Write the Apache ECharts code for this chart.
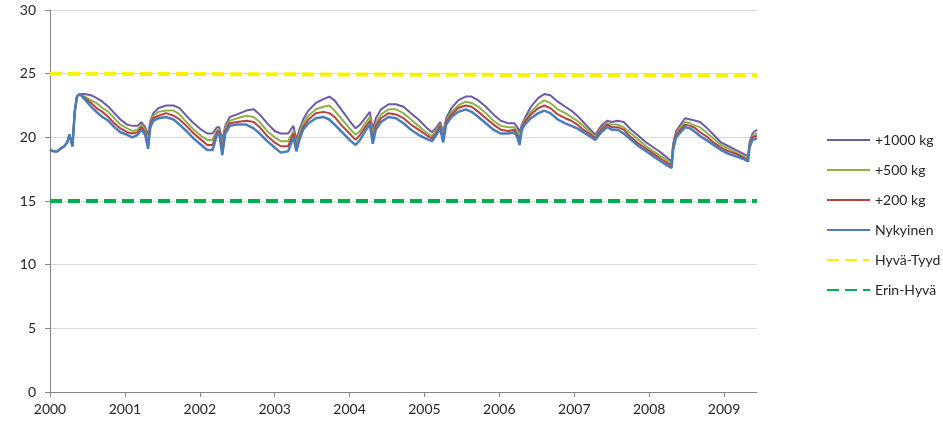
<!DOCTYPE html>
<html>
<head>
<meta charset="utf-8">
<script src="https://cdn.jsdelivr.net/npm/echarts/dist/echarts.min.js"></script>
<style>
html, body { margin: 0; padding: 0; background: #ffffff; }
#chart { width: 943px; height: 424px; }
</style>
</head>
<body>
<div id="chart"></div>
<script>
// Sample times (decimal years)
const times = [
  2000.00, 2000.05, 2000.10, 2000.14, 2000.19, 2000.23, 2000.26, 2000.28, 2000.30, 2000.33, 2000.36, 2000.40,
  2000.46, 2000.55, 2000.62, 2000.70, 2000.78, 2000.86, 2000.94, 2001.03, 2001.10, 2001.17, 2001.22, 2001.27,
  2001.31, 2001.34, 2001.38, 2001.45, 2001.55, 2001.65, 2001.73, 2001.82, 2001.92, 2002.02, 2002.10, 2002.17,
  2002.23, 2002.26, 2002.30, 2002.34, 2002.40, 2002.50, 2002.62, 2002.72, 2002.80, 2002.90, 2003.00, 2003.08,
  2003.18, 2003.25, 2003.29, 2003.33, 2003.38, 2003.45, 2003.55, 2003.65, 2003.73, 2003.80, 2003.90, 2004.00,
  2004.08, 2004.14, 2004.22, 2004.27, 2004.31, 2004.35, 2004.42, 2004.52, 2004.62, 2004.72, 2004.82, 2004.92,
  2005.02, 2005.10, 2005.15, 2005.21, 2005.25, 2005.29, 2005.36, 2005.45, 2005.55, 2005.63, 2005.72, 2005.82,
  2005.92, 2006.02, 2006.12, 2006.20, 2006.24, 2006.27, 2006.30, 2006.34, 2006.42, 2006.52, 2006.60, 2006.68,
  2006.78, 2006.88, 2006.96, 2007.04, 2007.12, 2007.20, 2007.28, 2007.36, 2007.44, 2007.50, 2007.58, 2007.66,
  2007.76, 2007.86, 2007.96, 2008.06, 2008.16, 2008.24, 2008.30, 2008.32, 2008.36, 2008.42, 2008.48, 2008.55,
  2008.62, 2008.68, 2008.76, 2008.86, 2008.96, 2009.06, 2009.16, 2009.26, 2009.32, 2009.34, 2009.38, 2009.44
];

const plus1000 = [
  19.0, 18.9, 18.9, 19.1, 19.3, 19.6, 20.2, 20.1, 19.3, 22.0, 23.2, 23.4,
  23.4, 23.3, 23.1, 22.8, 22.4, 21.9, 21.4, 21.0, 20.9, 20.9, 21.2, 20.8,
  20.2, 21.3, 21.9, 22.3, 22.5, 22.5, 22.3, 21.7, 21.1, 20.6, 20.3, 20.3,
  20.8, 20.8, 19.8, 20.9, 21.6, 21.8, 22.1, 22.2, 21.8, 21.1, 20.5, 20.3,
  20.3, 20.9, 19.8, 20.6, 21.4, 22.1, 22.7, 23.0, 23.2, 22.9, 22.1, 21.3,
  20.7, 21.0, 21.6, 22.0, 20.6, 21.5, 22.2, 22.6, 22.6, 22.4, 21.9, 21.4,
  20.8, 20.4, 20.7, 21.2, 20.4, 21.5, 22.3, 22.9, 23.2, 23.2, 22.9, 22.4,
  21.8, 21.3, 21.1, 21.1, 20.8, 20.4, 21.0, 21.5, 22.4, 23.1, 23.4, 23.3,
  22.8, 22.4, 22.1, 21.7, 21.2, 20.7, 20.2, 20.9, 21.3, 21.2, 21.3, 21.2,
  20.6, 20.1, 19.6, 19.2, 18.8, 18.4, 18.1, 19.5, 20.5, 21.0, 21.5, 21.4,
  21.3, 21.2, 20.8, 20.2, 19.6, 19.3, 19.0, 18.7, 18.5, 19.6, 20.3, 20.6
];

const plus500 = [
  19.0, 18.9, 18.9, 19.1, 19.3, 19.6, 20.2, 20.1, 19.3, 22.0, 23.2, 23.4,
  23.2, 22.9, 22.7, 22.3, 22.0, 21.5, 21.0, 20.7, 20.5, 20.6, 21.0, 20.6,
  19.8, 21.1, 21.7, 22.0, 22.1, 22.1, 21.8, 21.2, 20.6, 20.1, 19.8, 19.8,
  20.6, 20.6, 19.3, 20.7, 21.3, 21.5, 21.7, 21.6, 21.2, 20.5, 20.0, 19.7,
  19.7, 20.5, 19.4, 20.3, 21.1, 21.7, 22.2, 22.4, 22.5, 22.1, 21.4, 20.7,
  20.2, 20.5, 21.2, 21.6, 20.2, 21.1, 21.8, 22.2, 22.2, 21.9, 21.4, 20.9,
  20.4, 20.1, 20.5, 21.0, 20.1, 21.3, 22.0, 22.5, 22.8, 22.7, 22.4, 21.9,
  21.3, 20.9, 20.8, 20.8, 20.5, 20.0, 20.8, 21.3, 22.0, 22.6, 22.9, 22.7,
  22.2, 21.9, 21.6, 21.3, 20.9, 20.5, 20.0, 20.7, 21.1, 21.0, 21.0, 20.8,
  20.3, 19.8, 19.3, 18.9, 18.5, 18.2, 17.9, 19.3, 20.3, 20.8, 21.2, 21.1,
  20.9, 20.8, 20.4, 19.9, 19.4, 19.1, 18.8, 18.5, 18.3, 19.4, 20.1, 20.3
];

const plus200 = [
  19.0, 18.9, 18.9, 19.1, 19.3, 19.6, 20.2, 20.1, 19.3, 22.0, 23.2, 23.4,
  23.1, 22.7, 22.3, 22.0, 21.6, 21.1, 20.7, 20.4, 20.3, 20.4, 20.8, 20.4,
  19.4, 21.0, 21.5, 21.7, 21.9, 21.7, 21.4, 20.9, 20.3, 19.8, 19.4, 19.4,
  20.4, 20.5, 19.0, 20.5, 21.1, 21.2, 21.3, 21.2, 20.8, 20.1, 19.6, 19.3,
  19.3, 20.3, 19.2, 20.0, 20.8, 21.4, 21.9, 22.0, 21.9, 21.6, 20.9, 20.3,
  19.8, 20.2, 20.9, 21.3, 19.8, 20.9, 21.5, 21.9, 21.8, 21.5, 21.0, 20.6,
  20.2, 19.9, 20.3, 20.9, 19.8, 21.2, 21.8, 22.3, 22.5, 22.4, 22.0, 21.5,
  21.0, 20.6, 20.5, 20.6, 20.2, 19.7, 20.7, 21.2, 21.8, 22.3, 22.5, 22.3,
  21.8, 21.5, 21.3, 21.0, 20.6, 20.3, 19.9, 20.6, 21.0, 20.8, 20.8, 20.6,
  20.0, 19.5, 19.1, 18.7, 18.3, 18.0, 17.8, 19.2, 20.2, 20.6, 21.0, 20.9,
  20.7, 20.4, 20.1, 19.6, 19.2, 18.9, 18.7, 18.4, 18.2, 19.3, 20.0, 20.1
];

const nykyinen = [
  19.0, 18.9, 18.9, 19.1, 19.3, 19.6, 20.2, 20.1, 19.3, 22.0, 23.2, 23.4,
  23.0, 22.4, 22.0, 21.6, 21.3, 20.8, 20.4, 20.2, 20.0, 20.2, 20.6, 20.2,
  19.1, 20.8, 21.3, 21.5, 21.6, 21.4, 21.0, 20.5, 19.9, 19.4, 19.0, 19.0,
  20.2, 20.3, 18.6, 20.3, 20.9, 21.0, 21.0, 20.7, 20.3, 19.7, 19.2, 18.8,
  18.9, 20.0, 18.9, 19.8, 20.6, 21.1, 21.5, 21.6, 21.4, 21.0, 20.4, 19.8,
  19.4, 19.8, 20.6, 21.0, 19.5, 20.6, 21.2, 21.6, 21.5, 21.1, 20.6, 20.2,
  19.9, 19.7, 20.1, 20.7, 19.6, 21.0, 21.6, 22.0, 22.2, 22.0, 21.6, 21.1,
  20.6, 20.3, 20.3, 20.4, 20.0, 19.4, 20.6, 21.0, 21.5, 21.9, 22.1, 21.9,
  21.4, 21.1, 20.9, 20.7, 20.4, 20.1, 19.8, 20.4, 20.8, 20.6, 20.6, 20.3,
  19.8, 19.3, 18.9, 18.5, 18.1, 17.8, 17.6, 19.0, 20.0, 20.4, 20.8, 20.7,
  20.4, 20.1, 19.8, 19.4, 19.0, 18.7, 18.5, 18.3, 18.1, 19.2, 19.8, 19.9
];

// Class boundaries
const limitTimes = [2000.00, 2009.44];
const hyvaTyyd = [25.0, 24.85];
const erinHyva = [15.0, 15.0];

const yearTicks = { min: 2000, max: 2009.44, step: 1 };
const valueTicks = { min: 0, max: 30, step: 5 };

function pairs(xs, ys) {
  return xs.map((x, i) => [x, ys[i]]);
}

const FONT = 'Lato, "Open Sans", sans-serif';
const chart = echarts.init(document.getElementById('chart'), null, { renderer: 'canvas' });

chart.setOption({
  animation: false,
  backgroundColor: '#ffffff',
  grid: { left: 50, right: 186, top: 10, bottom: 32, containLabel: false },
  xAxis: {
    type: 'value',
    min: yearTicks.min,
    max: yearTicks.max,
    interval: yearTicks.step,
    axisLine: { show: true, lineStyle: { color: '#868686', width: 1 } },
    axisTick: { show: true, length: 5, lineStyle: { color: '#868686' } },
    splitLine: { show: false },
    axisLabel: {
      showMaxLabel: false,
      margin: 10,
      color: '#262626',
      fontFamily: FONT,
      fontSize: 14,
      formatter: v => String(Math.round(v))
    }
  },
  yAxis: {
    type: 'value',
    min: valueTicks.min,
    max: valueTicks.max,
    interval: valueTicks.step,
    axisLine: { show: true, lineStyle: { color: '#868686', width: 1 } },
    axisTick: { show: true, length: 5, lineStyle: { color: '#868686' } },
    splitLine: { show: true, lineStyle: { color: '#d9d9d9', width: 1 } },
    axisLabel: { margin: 14, color: '#262626', fontFamily: FONT, fontSize: 14 }
  },
  legend: {
    orient: 'vertical',
    left: 821,
    top: 128,
    itemWidth: 43,
    itemHeight: 14,
    itemGap: 16,
    itemStyle: { opacity: 0 },
    textStyle: { color: '#262626', fontFamily: FONT, fontSize: 14 },
    data: ['+1000 kg', '+500 kg', '+200 kg', 'Nykyinen', 'Hyvä-Tyyd', 'Erin-Hyvä']
  },
  series: [
    {
      name: 'Hyvä-Tyyd', type: 'line', symbol: 'none', z: 1,
      data: pairs(limitTimes, hyvaTyyd),
      lineStyle: { color: '#f7f300', width: 4, type: [12, 6] },
      itemStyle: { color: '#f7f300' }
    },
    {
      name: 'Erin-Hyvä', type: 'line', symbol: 'none', z: 1,
      data: pairs(limitTimes, erinHyva),
      lineStyle: { color: '#00b050', width: 4, type: [12, 6] },
      itemStyle: { color: '#00b050' }
    },
    {
      name: '+1000 kg', type: 'line', symbol: 'none', z: 2,
      data: pairs(times, plus1000),
      lineStyle: { color: '#6f5aa6', width: 2 },
      itemStyle: { color: '#6f5aa6' }
    },
    {
      name: '+500 kg', type: 'line', symbol: 'none', z: 3,
      data: pairs(times, plus500),
      lineStyle: { color: '#8db24a', width: 2 },
      itemStyle: { color: '#8db24a' }
    },
    {
      name: '+200 kg', type: 'line', symbol: 'none', z: 4,
      data: pairs(times, plus200),
      lineStyle: { color: '#b8413d', width: 2 },
      itemStyle: { color: '#b8413d' }
    },
    {
      name: 'Nykyinen', type: 'line', symbol: 'none', z: 5,
      data: pairs(times, nykyinen),
      lineStyle: { color: '#4a7dbb', width: 2.5 },
      itemStyle: { color: '#4a7dbb' }
    }
  ]
});
</script>
</body>
</html>
